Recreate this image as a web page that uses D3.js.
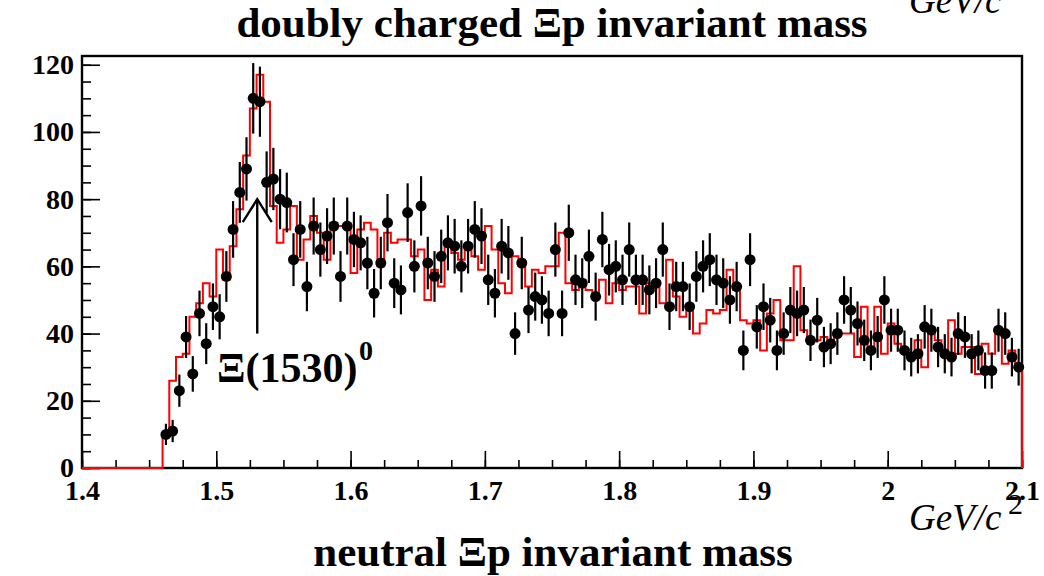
<!DOCTYPE html>
<html>
<head>
<meta charset="utf-8">
<title>neutral Xi p invariant mass</title>
<script src="https://d3js.org/d3.v7.min.js"></script>
<style>
  body { margin: 0; padding: 0; background: #fff; }
  svg text { font-family: "Liberation Serif", "Times New Roman", serif; }
  .tick line { stroke: #000; stroke-width: 1.6px; }
  .tick text { font-size: 28px; font-weight: bold; fill: #000; }
</style>
</head>
<body>
<div id="chart"></div>
<script>
// binning of both histograms: 0.005 GeV/c^2 bins, filled from 1.46 up to 2.1
var binLow = 1.46, binWidth = 0.005;

// data points (black markers), counts per bin
var dataCounts = [
  10, 11, 23, 39, 28, 46, 37, 48, 45, 57,
  71, 82, 89, 110, 109, 85, 86, 80, 79, 62,
  71, 54, 72, 65, 69, 72, 57, 72, 68, 67,
  61, 52, 61, 73, 55, 53, 76, 60, 78, 61,
  57, 63, 67, 66, 60, 66, 71, 69, 56, 52,
  66, 64, 40, 61, 47, 51, 50, 46, 65, 46,
  70, 56, 55, 63, 51, 68, 59, 60, 56, 65,
  56, 56, 53, 55, 65, 48, 54, 54, 48, 57,
  60, 62, 56, 55, 50, 54, 35, 62, 42, 48,
  44, 35, 40, 47, 46, 47, 38, 44, 36, 37,
  40, 50, 47, 43, 38, 35, 39, 50, 41, 41,
  35, 33, 34, 42, 41, 36, 34, 33, 40, 39,
  34, 35, 29, 29, 41, 40, 33, 30
];

// red histogram (doubly charged), counts per bin
var histCounts = [
  10, 26, 33, 34, 45, 49, 55, 51, 65, 56,
  66, 77, 93, 107, 117, 109, 78, 67, 71, 78,
  62, 68, 75, 70, 62, 73, 72, 72, 58, 71,
  73, 71, 60, 70, 67, 68, 68, 63, 65, 50,
  59, 54, 67, 64, 62, 65, 63, 59, 72, 65,
  55, 52, 63, 60, 54, 59, 58, 60, 60, 70,
  55, 53, 56, 53, 52, 56, 49, 55, 53, 54,
  54, 46, 55, 55, 49, 62, 51, 45, 47, 40,
  43, 47, 46, 47, 59, 53, 44, 43, 44, 35,
  46, 50, 38, 38, 60, 41, 38, 38, 39, 37,
  41, 40, 40, 33, 48, 36, 48, 34, 43, 37,
  35, 34, 38, 30, 40, 38, 35, 44, 34, 36,
  36, 28, 37, 34, 40, 31, 35, 31
];

var xTicks = [1.4, 1.5, 1.6, 1.7, 1.8, 1.9, 2.0, 2.1];
var yTicks = [0, 20, 40, 60, 80, 100, 120];

var W = 1044, H = 576;
var x = d3.scaleLinear().domain([1.4, 2.1]).range([82, 1022]);
var y = d3.scaleLinear().domain([0, 122.6]).range([468, 56]);

var svg = d3.select("#chart").append("svg")
  .attr("width", W).attr("height", H);

// frame
svg.append("rect")
  .attr("x", x(1.4)).attr("y", y(122.6))
  .attr("width", x(2.1) - x(1.4)).attr("height", y(0) - y(122.6))
  .attr("fill", "none").attr("stroke", "#000").attr("stroke-width", 2.4);

// minor ticks
svg.append("g")
  .attr("transform", "translate(" + x.range()[0] + ",0)")
  .call(d3.axisLeft(y).tickValues(d3.range(0, 121, 5)).tickSize(-9).tickFormat(""))
  .call(g => g.select(".domain").remove());
svg.append("g")
  .attr("transform", "translate(0," + y.range()[0] + ")")
  .call(d3.axisBottom(x).tickValues(d3.range(0, 29).map(i => 1.4 + i * 0.025)).tickSize(-8).tickFormat(""))
  .call(g => g.select(".domain").remove());

// major ticks + labels
svg.append("g")
  .attr("transform", "translate(" + x.range()[0] + ",0)")
  .call(d3.axisLeft(y).tickValues(yTicks).tickSize(-18).tickPadding(8).tickFormat(d3.format("d")))
  .call(g => g.select(".domain").remove());
svg.append("g")
  .attr("transform", "translate(0," + y.range()[0] + ")")
  .call(d3.axisBottom(x).tickValues(xTicks).tickSize(-17).tickPadding(12)
    .tickFormat(d => d === 2 ? "2" : d3.format(".1f")(d)))
  .call(g => g.select(".domain").remove());

// red histogram outline (drawn over the frame, as in the original)
var steps = [[1.4, 0], [binLow, 0]];
histCounts.forEach(function (v, i) {
  var lo = binLow + i * binWidth;
  steps.push([lo, v], [lo + binWidth, v]);
});
steps.push([2.1, 0]);
svg.append("path")
  .datum(steps)
  .attr("fill", "none")
  .attr("stroke", "#ff0000")
  .attr("stroke-width", 2)
  .attr("d", d3.line().x(d => x(d[0])).y(d => y(d[1])));

// data points with error bars
var pts = dataCounts.map(function (v, i) {
  return { m: binLow + (i + 0.5) * binWidth, n: v, e: Math.sqrt(v) };
});
svg.append("g").selectAll("line")
  .data(pts).enter().append("line")
  .attr("x1", d => x(d.m)).attr("x2", d => x(d.m))
  .attr("y1", d => y(d.n - d.e)).attr("y2", d => y(d.n + d.e))
  .attr("stroke", "#000").attr("stroke-width", 2.2);
svg.append("g").selectAll("circle")
  .data(pts).enter().append("circle")
  .attr("cx", d => x(d.m)).attr("cy", d => y(d.n))
  .attr("r", 5.5).attr("fill", "#000");

// arrow marking the Xi(1530)0
var ax = x(1.5305), aTop = y(80), aBot = y(40);
svg.append("line")
  .attr("x1", ax).attr("x2", ax).attr("y1", aBot).attr("y2", aTop)
  .attr("stroke", "#000").attr("stroke-width", 2.4);
svg.append("path")
  .attr("d", "M" + (ax - 14.5) + "," + (aTop + 23) + "L" + ax + "," + aTop + "L" + (ax + 14.5) + "," + (aTop + 23))
  .attr("fill", "none").attr("stroke", "#000").attr("stroke-width", 2.4);

svg.append("text")
  .attr("x", 217).attr("y", 382)
  .style("font-size", "42px").style("font-weight", "bold")
  .text("\u039E(1530)");
svg.append("text")
  .attr("x", 359).attr("y", 360)
  .style("font-size", "28px").style("font-weight", "bold")
  .text("0");

// titles
svg.append("text")
  .attr("x", 552).attr("y", 37)
  .attr("text-anchor", "middle")
  .style("font-size", "43px").style("font-weight", "bold")
  .text("doubly charged \u039Ep invariant mass");
svg.append("text")
  .attr("x", 553).attr("y", 566)
  .attr("text-anchor", "middle")
  .style("font-size", "43px").style("font-weight", "bold")
  .text("neutral \u039Ep invariant mass");

// units
function units(x0, base) {
  svg.append("text")
    .attr("x", x0).attr("y", base)
    .style("font-size", "37px").style("font-style", "italic")
    .text("GeV/c");
  svg.append("text")
    .attr("x", x0 + 99).attr("y", base - 16)
    .style("font-size", "30px")
    .text("2");
}
units(909, 530);
units(909, 13);
</script>
</body>
</html>
